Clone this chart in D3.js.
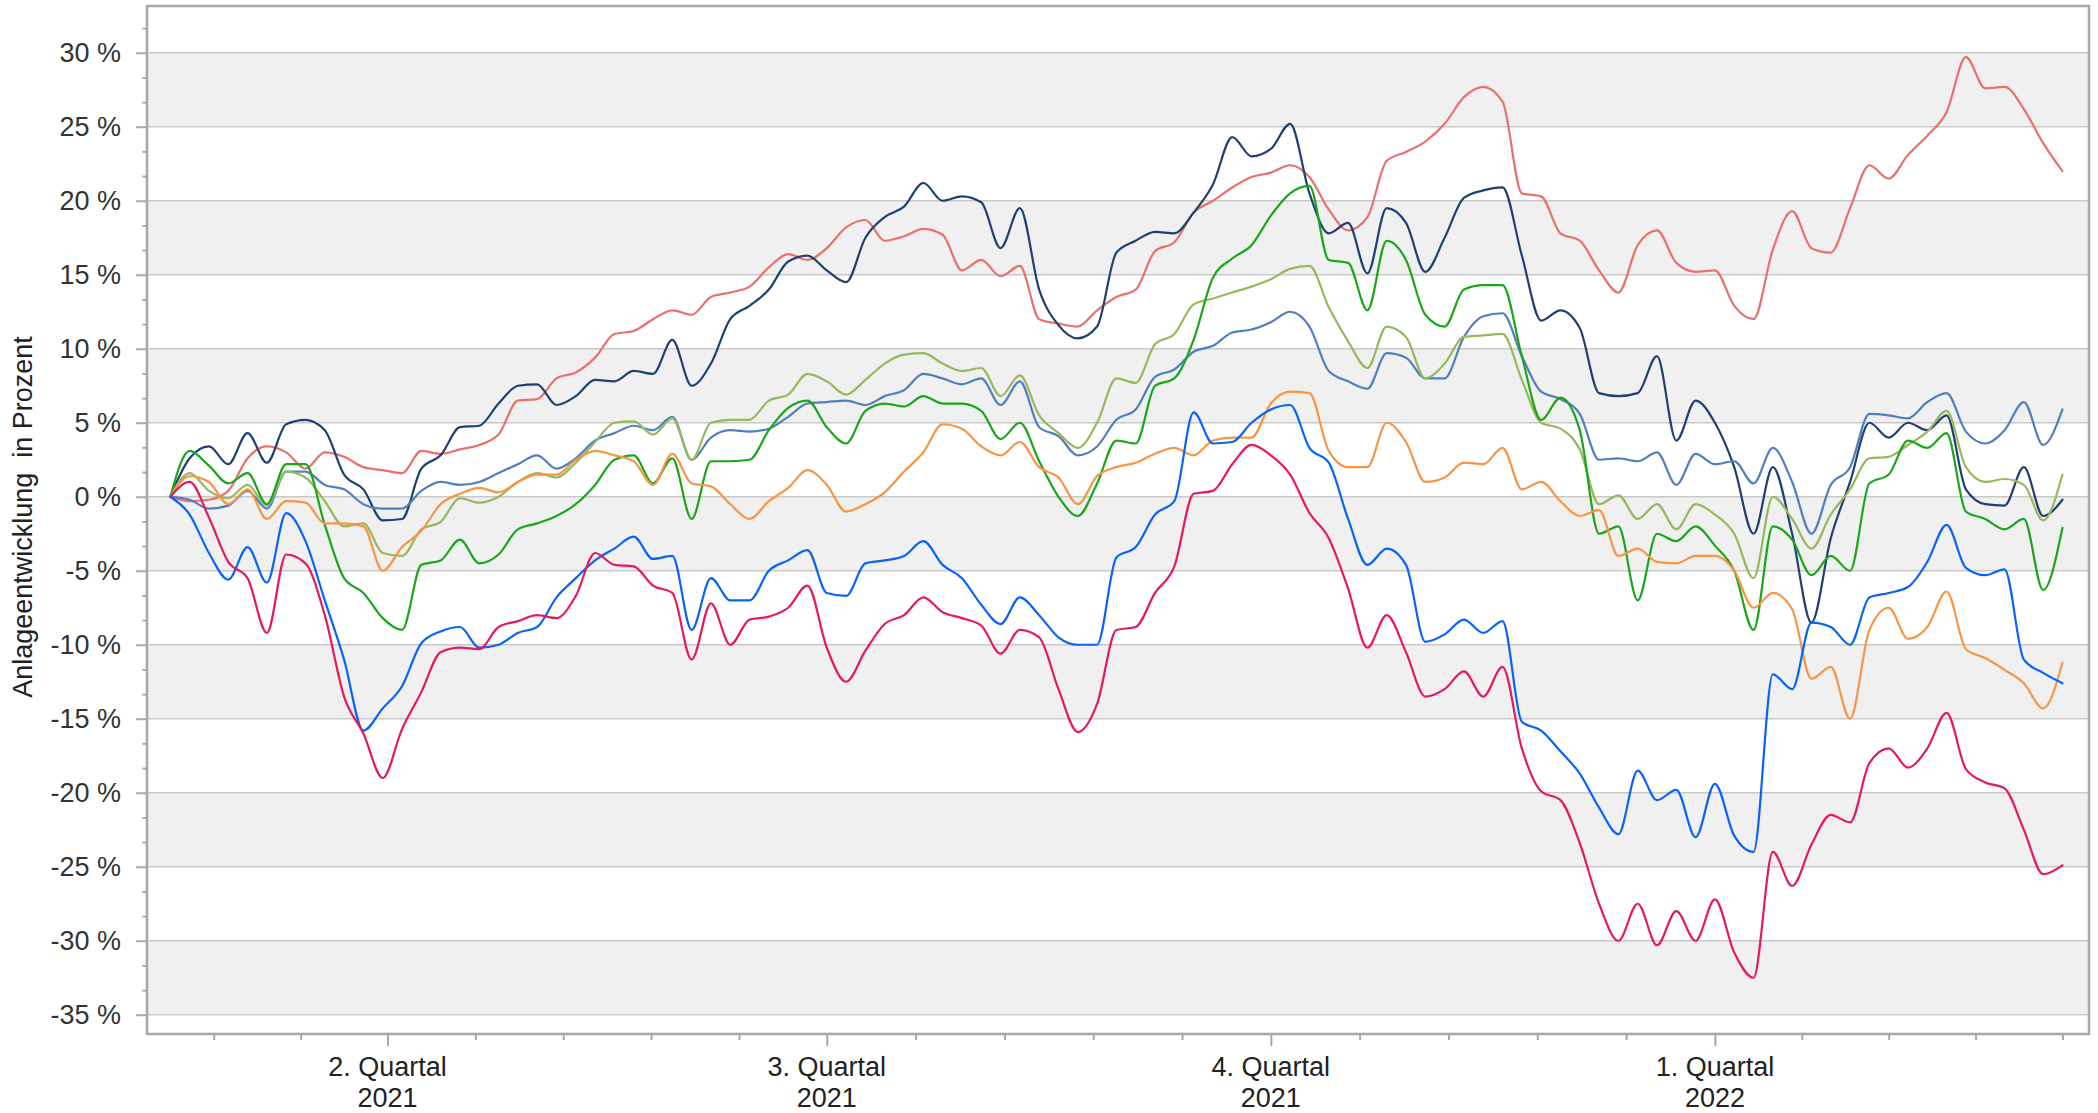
<!DOCTYPE html>
<html>
<head>
<meta charset="utf-8">
<script src="https://cdn.jsdelivr.net/npm/d3@7"></script>
<style>
  html, body { margin: 0; padding: 0; background: #ffffff; }
  svg { display: block; }
</style>
</head>
<body>
<svg id="chart" width="2098" height="1113"></svg>
<script>
// ---------- DATA ----------
// x categories: sampled dates, every 4 calendar days from 15 Feb 2021
const firstDate = "2021-02-15";
const stepDays = 4;

const seriesNames = ["Fonds A", "Fonds B", "Fonds C", "Fonds D", "Fonds E", "Fonds F", "Fonds G", "Fonds H"];
const seriesColors = ["#e8716b", "#1d4173", "#4f7fbf", "#98b85c", "#1ba619", "#f79544", "#0863f7", "#e6195a"];

const valuesA = [0, -0.3, -0.2, 0.4, 2.6, 3.4, 3.0, 1.9, 3.0, 2.7,
  2.0, 1.8, 1.6, 3.1, 2.9, 3.2, 3.5, 4.2, 6.5, 6.6,
  8.0, 8.4, 9.4, 11.0, 11.2, 12.0, 12.6, 12.3, 13.5, 13.8,
  14.2, 15.5, 16.4, 16.0, 16.8, 18.2, 18.7, 17.3, 17.6, 18.1,
  17.7, 15.3, 16.0, 14.9, 15.6, 12.0, 11.7, 11.5, 12.6, 13.5,
  14.0, 16.6, 17.2, 19.2, 20.0, 20.9, 21.6, 21.9, 22.4, 21.6,
  19.4, 18.0, 18.9, 22.7, 23.3, 24.0, 25.2, 27.0, 27.7, 26.7,
  20.5, 20.3, 17.8, 17.3, 15.3, 13.8, 17.0, 18.0, 15.8, 15.2,
  15.3, 12.9, 12.0, 16.7, 19.3, 16.8, 16.5, 19.5, 22.4, 21.5,
  23.1, 24.4, 26.0, 29.7, 27.6, 27.7, 26.2, 23.9, 22.0];

const valuesB = [0, 2.6, 3.4, 2.2, 4.3, 2.3, 4.9, 5.2, 4.5, 1.5,
  0.5, -1.6, -1.5, 1.9, 2.8, 4.7, 4.8, 6.3, 7.5, 7.6,
  6.2, 6.8, 7.9, 7.8, 8.5, 8.3, 10.6, 7.5, 9.0, 12.0,
  12.9, 14.0, 15.9, 16.3, 15.3, 14.5, 17.5, 18.9, 19.6, 21.2,
  20.0, 20.3, 19.9, 16.8, 19.5, 14.0, 11.6, 10.7, 11.5, 16.5,
  17.3, 17.9, 17.8, 19.2, 21.1, 24.3, 23.0, 23.5, 25.2, 20.5,
  17.8, 18.5, 15.1, 19.5, 18.5, 15.2, 17.5, 20.2, 20.7, 20.9,
  16.3, 11.9, 12.6, 11.4, 7.0, 6.8, 7.0, 9.5, 3.8, 6.5,
  5.0, 2.0, -2.5, 2.0, -2.5, -8.5, -2.8, 1.0, 5.0, 4.0,
  5.0, 4.5, 5.5, 0.5, -0.5, -0.6, 2.0, -1.3, -0.2];

const valuesC = [0, -0.2, -0.8, -0.6, 0.4, -0.8, 1.7, 1.7, 0.8, 0.5,
  -0.5, -0.8, -0.8, 0.4, 1.0, 0.8, 1.0, 1.6, 2.2, 2.8,
  1.9, 2.6, 3.8, 4.3, 4.8, 4.5, 5.4, 2.5, 4.0, 4.5,
  4.4, 4.6, 5.4, 6.3, 6.4, 6.5, 6.2, 6.8, 7.2, 8.3,
  8.0, 7.6, 8.0, 6.2, 7.8, 4.7, 4.1, 2.8, 3.4, 5.2,
  5.9, 8.1, 8.6, 9.8, 10.2, 11.1, 11.3, 11.8, 12.5, 11.5,
  8.5, 7.8, 7.3, 9.7, 9.4, 8.0, 8.0, 10.8, 12.2, 12.4,
  9.5, 7.1, 6.6, 5.6, 2.5, 2.6, 2.4, 3.0, 0.8, 2.9,
  2.2, 2.4, 0.9, 3.3, 1.0, -2.5, 0.8, 2.0, 5.6, 5.5,
  5.3, 6.4, 7.0, 4.4, 3.6, 4.5, 6.4, 3.5, 5.9];

const valuesD = [0, 1.6, 0.4, -0.1, 0.8, -0.6, 1.7, 1.3, -0.3, -2.0,
  -1.8, -3.8, -4.0, -2.2, -1.7, -0.1, -0.4, 0.0, 1.0, 1.6,
  1.3, 2.3, 3.7, 5.0, 5.1, 4.2, 5.3, 2.5, 5.0, 5.2,
  5.2, 6.5, 6.9, 8.3, 7.8, 6.9, 7.9, 9.0, 9.6, 9.7,
  9.0, 8.5, 8.7, 6.8, 8.2, 5.5, 4.3, 3.3, 5.0, 8.0,
  7.7, 10.3, 11.0, 13.0, 13.4, 13.8, 14.2, 14.7, 15.4, 15.6,
  12.8, 10.5, 8.7, 11.5, 10.8, 8.0, 9.0, 10.8, 10.9, 11.0,
  7.9, 5.0, 4.6, 3.2, -0.5, 0.1, -1.5, -0.5, -2.2, -0.5,
  -1.2, -2.5, -5.5, 0.0, -1.5, -3.5, -1.2, 0.5, 2.6, 2.7,
  3.5, 4.4, 5.8, 2.0, 1.0, 1.2, 0.8, -1.6, 1.5];

const valuesE = [0, 3.1, 2.1, 0.9, 1.6, -0.5, 2.2, 2.2, -1.9, -5.5,
  -6.5, -8.2, -9.0, -4.6, -4.3, -2.9, -4.5, -3.9, -2.2, -1.8,
  -1.3, -0.5, 0.8, 2.5, 2.8, 0.9, 2.6, -1.5, 2.4, 2.4,
  2.5, 4.5, 6.0, 6.5, 4.7, 3.6, 5.8, 6.3, 6.1, 6.8,
  6.3, 6.3, 5.8, 3.9, 5.0, 2.4, 0.0, -1.3, 0.9, 3.8,
  3.6, 7.5, 8.0, 10.6, 14.8, 16.1, 17.0, 19.0, 20.5, 21.0,
  16.0, 15.8, 12.6, 17.3, 16.0, 12.3, 11.5, 14.0, 14.3, 14.3,
  9.5, 5.2, 6.7, 4.5, -2.5, -2.0, -7.0, -2.5, -3.0, -2.0,
  -3.3, -5.0, -9.0, -2.0, -2.9, -5.3, -4.0, -5.0, 0.9, 1.5,
  3.8, 3.3, 4.3, -1.0, -1.5, -2.2, -1.5, -6.3, -2.1];

const valuesF = [0, 1.4, 1.0, -0.5, 0.5, -1.5, -0.3, -0.4, -1.8, -1.8,
  -2.0, -5.0, -3.4, -2.3, -0.5, 0.2, 0.6, 0.3, 1.0, 1.5,
  1.5, 2.5, 3.1, 2.8, 2.4, 0.8, 2.9, 0.9, 0.7, -0.5,
  -1.5, -0.3, 0.6, 1.8, 0.8, -1.0, -0.5, 0.3, 1.7, 3.0,
  4.9, 4.6, 3.4, 2.8, 3.7, 2.0, 1.3, -0.5, 1.4, 2.0,
  2.3, 2.9, 3.3, 2.8, 3.8, 4.0, 4.0, 6.3, 7.1, 7.0,
  3.1, 2.0, 2.0, 5.0, 3.7, 1.0, 1.3, 2.3, 2.2, 3.3,
  0.5, 1.0, -0.3, -1.3, -0.9, -4.0, -3.5, -4.4, -4.5, -4.0,
  -4.0, -5.0, -7.5, -6.5, -7.6, -12.3, -11.5, -15.0, -9.0, -7.5,
  -9.6, -8.8, -6.4, -10.3, -10.9, -11.7, -12.6, -14.3, -11.2];

const valuesG = [0, -1.2, -3.8, -5.6, -3.4, -5.8, -1.1, -3.0, -7.0, -11.0,
  -15.8, -14.3, -12.8, -9.9, -9.1, -8.8, -10.2, -10.0, -9.2, -8.8,
  -6.8, -5.5, -4.3, -3.5, -2.7, -4.2, -4.0, -9.0, -5.5, -7.0,
  -7.0, -5.0, -4.3, -3.6, -6.5, -6.7, -4.5, -4.3, -4.0, -3.0,
  -4.6, -5.5, -7.3, -8.6, -6.8, -8.0, -9.5, -10.0, -10.0, -4.1,
  -3.4, -1.2, -0.3, 5.7, 3.6, 3.7, 5.0, 5.9, 6.2, 3.3,
  2.3, -1.5, -4.6, -3.5, -4.6, -9.8, -9.3, -8.3, -9.2, -8.4,
  -15.2, -15.8, -17.2, -18.7, -21.0, -22.8, -18.5, -20.5, -19.8, -23.0,
  -19.4, -22.9, -24.0, -12.0, -13.0, -8.5, -8.8, -10.0, -6.8, -6.5,
  -6.1, -4.4, -1.9, -4.8, -5.3, -4.9, -11.0, -11.9, -12.6];

const valuesH = [0, 1.0, -1.4, -4.4, -5.5, -9.2, -3.9, -4.5, -8.0, -13.5,
  -16.0, -19.0, -15.7, -13.2, -10.5, -10.2, -10.3, -8.8, -8.4, -8.0,
  -8.2, -6.7, -3.8, -4.6, -4.7, -6.0, -6.5, -11.0, -7.2, -10.0,
  -8.3, -8.1, -7.5, -6.0, -10.2, -12.5, -10.4, -8.6, -8.0, -6.8,
  -7.8, -8.2, -8.7, -10.6, -9.0, -9.5, -13.0, -15.9, -14.0, -9.0,
  -8.8, -6.5, -4.7, 0.2, 0.4, 2.2, 3.5, 2.8, 1.5, -1.1,
  -2.8, -6.2, -10.2, -8.0, -10.5, -13.5, -13.0, -11.8, -13.5, -11.5,
  -17.0, -19.9, -20.5, -23.4, -27.5, -30.0, -27.5, -30.3, -28.0, -30.0,
  -27.2, -30.8, -32.5, -24.0, -26.3, -23.5, -21.5, -22.0, -18.0, -17.0,
  -18.3, -17.0, -14.6, -18.4, -19.3, -19.7, -22.5, -25.5, -24.9];

const seriesValues = [valuesA, valuesB, valuesC, valuesD, valuesE, valuesF, valuesG, valuesH];

// y axis ticks and labels
const yTickValues = [30, 25, 20, 15, 10, 5, 0, -5, -10, -15, -20, -25, -30, -35];
const yTickLabels = ["30 %", "25 %", "20 %", "15 %", "10 %", "5 %", "0 %", "-5 %", "-10 %", "-15 %", "-20 %", "-25 %", "-30 %", "-35 %"];
const shadedBands = [[25, 30], [15, 20], [5, 10], [-5, 0], [-15, -10], [-25, -20], [-35, -30]];

// x axis: quarter boundaries and labels
const quarterStarts = ["2021-01-01", "2021-04-01", "2021-07-01", "2021-10-01", "2022-01-01", "2022-04-01"];
const quarterLabels = [null, ["2. Quartal", "2021"], ["3. Quartal", "2021"], ["4. Quartal", "2021"], ["1. Quartal", "2022"], null];

const yTitle = "Anlageentwicklung\u00a0\u00a0in Prozent";

// ---------- CHART ----------
const svg = d3.select("#chart");
const plot = { left: 147, right: 2089, top: 6, bottom: 1034 };

const parse = d3.utcParse("%Y-%m-%d");
const start = parse(firstDate);
const dates = valuesA.map((_, i) => d3.utcDay.offset(start, i * stepDays));

const x = d3.scaleUtc()
  .domain([new Date(Date.UTC(2021, 1, 10, 4)), new Date(Date.UTC(2022, 2, 19, 12))])
  .range([plot.left, plot.right]);
const y = d3.scaleLinear().domain([-36.3, 33.16]).range([plot.bottom, plot.top]);

// background
svg.append("rect").attr("x", plot.left).attr("y", plot.top)
  .attr("width", plot.right - plot.left).attr("height", plot.bottom - plot.top)
  .attr("fill", "#ffffff");

// shaded bands
svg.append("g").selectAll("rect").data(shadedBands).join("rect")
  .attr("x", plot.left)
  .attr("width", plot.right - plot.left)
  .attr("y", d => y(d[1]))
  .attr("height", d => y(d[0]) - y(d[1]))
  .attr("fill", "#f0f0f0");

// grid lines
svg.append("g").selectAll("line").data(yTickValues).join("line")
  .attr("x1", plot.left).attr("x2", plot.right)
  .attr("y1", d => y(d)).attr("y2", d => y(d))
  .attr("stroke", "#c9c9c9").attr("stroke-width", 1.6);

// clip
svg.append("clipPath").attr("id", "clip").append("rect")
  .attr("x", plot.left).attr("y", plot.top)
  .attr("width", plot.right - plot.left).attr("height", plot.bottom - plot.top);

const line = d3.line()
  .x(d => x(d.date))
  .y(d => y(d.v))
  .curve(d3.curveMonotoneX);

const lines = svg.append("g").attr("clip-path", "url(#clip)");
seriesValues.forEach((vals, k) => {
  const pts = vals.map((v, i) => ({ date: dates[i], v }));
  lines.append("path")
    .datum(pts)
    .attr("d", line)
    .attr("fill", "none")
    .attr("stroke", seriesColors[k])
    .attr("stroke-width", 2.2)
    .attr("stroke-linejoin", "round")
    .attr("stroke-linecap", "round")
    .append("title").text(seriesNames[k]);
});

// frame
svg.append("rect").attr("x", plot.left).attr("y", plot.top)
  .attr("width", plot.right - plot.left).attr("height", plot.bottom - plot.top)
  .attr("fill", "none").attr("stroke", "#a9a9a9").attr("stroke-width", 2.6);

// y axis
const yMinor = [];
yTickValues.forEach(v => { yMinor.push(v + 5 / 3, v + 10 / 3); });
const yMinorIn = yMinor.filter(v => v < y.domain()[1] && v > y.domain()[0]);

const yAxisMinor = svg.append("g").attr("transform", `translate(${plot.left},0)`)
  .call(d3.axisLeft(y).tickValues(yMinorIn).tickSize(4.5).tickFormat(""));
const yAxis = svg.append("g").attr("transform", `translate(${plot.left},0)`)
  .call(d3.axisLeft(y).tickValues(yTickValues).tickSize(11).tickPadding(15)
    .tickFormat((d, i) => yTickLabels[i]));
[yAxis, yAxisMinor].forEach(g => {
  g.select(".domain").remove();
  g.selectAll(".tick line").attr("stroke", "#a9a9a9").attr("stroke-width", 2);
});
yAxis.selectAll(".tick text")
  .attr("font-family", "'Liberation Sans', Arial, sans-serif")
  .attr("font-size", 27).attr("fill", "#333333");

// x axis
const qDates = quarterStarts.map(parse);
const xMinor = [];
for (let q = 0; q < qDates.length - 1; q++) {
  const a = +qDates[q], b = +qDates[q + 1];
  for (let k = 1; k < 5; k++) xMinor.push(new Date(a + (b - a) * k / 5));
}
const [d0, d1] = x.domain();
const xMinorIn = xMinor.filter(d => d > d0 && d < d1);
const xMajorIn = qDates.filter(d => d > d0 && d < d1);

const xAxisMinor = svg.append("g").attr("transform", `translate(0,${plot.bottom})`)
  .call(d3.axisBottom(x).tickValues(xMinorIn).tickSize(6).tickFormat(""));
const xAxis = svg.append("g").attr("transform", `translate(0,${plot.bottom})`)
  .call(d3.axisBottom(x).tickValues(xMajorIn).tickSize(12).tickFormat(""));
[xAxis, xAxisMinor].forEach(g => {
  g.select(".domain").remove();
  g.selectAll(".tick line").attr("stroke", "#a9a9a9").attr("stroke-width", 2);
});

const labelG = svg.append("g")
  .attr("font-family", "'Liberation Sans', Arial, sans-serif")
  .attr("font-size", 27).attr("fill", "#222222").attr("text-anchor", "middle");
qDates.forEach((d, i) => {
  if (!quarterLabels[i] || d <= d0 || d >= d1) return;
  const t = labelG.append("text").attr("x", x(d));
  t.append("tspan").attr("x", x(d)).attr("y", 1076).text(quarterLabels[i][0]);
  t.append("tspan").attr("x", x(d)).attr("y", 1107).text(quarterLabels[i][1]);
});

// y title
svg.append("text")
  .attr("transform", `translate(32,517) rotate(-90)`)
  .attr("text-anchor", "middle")
  .attr("font-family", "'Liberation Sans', Arial, sans-serif")
  .attr("font-size", 27).attr("fill", "#222222")
  .text(yTitle);
</script>
</body>
</html>
